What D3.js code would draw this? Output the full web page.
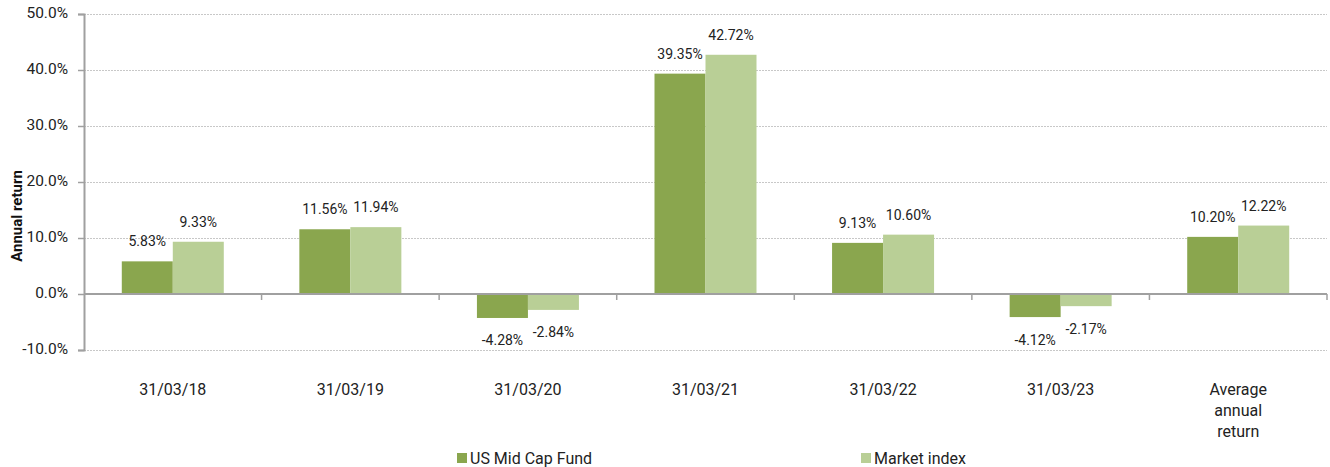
<!DOCTYPE html>
<html><head><meta charset="utf-8">
<script src="https://cdn.jsdelivr.net/npm/d3@7"></script>
<style>body{margin:0;background:#fff;font-family:Roboto,"Noto Sans",sans-serif;}</style>
</head><body><svg id="c" width="1330" height="467"></svg>
<script>
const categories = ["31/03/18","31/03/19","31/03/20","31/03/21","31/03/22","31/03/23","Average annual return"];
const categoryLines = [["31/03/18"],["31/03/19"],["31/03/20"],["31/03/21"],["31/03/22"],["31/03/23"],["Average","annual","return"]];
const fundValues = [5.83, 11.56, -4.28, 39.35, 9.13, -4.12, 10.20];
const indexValues = [9.33, 11.94, -2.84, 42.72, 10.60, -2.17, 12.22];
const seriesNames = ["US Mid Cap Fund","Market index"];
const yTicks = [-10, 0, 10, 20, 30, 40, 50];
const colors = ["#8aa64e","#b9cf96"];

(function(){
const svg = d3.select("#c");
const mLeft = 84, mRight = 1327, mTop = 14, mBottom = 350;
const y = d3.scaleLinear().domain([-10, 50]).range([mBottom, mTop]);
const x0 = d3.scaleBand().domain(categories).range([mLeft, mRight]).paddingInner(0).paddingOuter(0);
const x1 = d3.scaleBand().domain(seriesNames).range([0, 102]);
const barOffset = (x0.bandwidth() - 102) / 2;

// grid
svg.append("g").selectAll("line").data(yTicks.filter(t => t !== 0)).join("line")
  .attr("x1", mLeft).attr("x2", mRight).attr("y1", d => y(d) + 0.5).attr("y2", d => y(d) + 0.5)
  .attr("stroke", "#c8c8c8").attr("stroke-width", 1).attr("stroke-dasharray", "2,1");

// y axis
const yAxis = d3.axisLeft(y).tickValues(yTicks).tickFormat(d => d.toFixed(1) + "%").tickSize(6).tickPadding(10);
const ya = svg.append("g").attr("transform", `translate(${mLeft},0)`).call(yAxis);
ya.select(".domain").attr("stroke", "#a0a0a0").attr("stroke-width", 2);
ya.selectAll(".tick line").attr("stroke", "#a0a0a0").attr("stroke-width", 1.5);
ya.selectAll("text").attr("font-family", "Roboto").attr("font-size", 15.5).attr("fill", "#222")
  .attr("dy", "0.2em");

// bars
const series = [fundValues, indexValues];
series.forEach((vals, si) => {
  svg.append("g").selectAll("rect").data(vals).join("rect")
    .attr("x", (d, i) => x0(categories[i]) + barOffset + x1(seriesNames[si]))
    .attr("width", x1.bandwidth())
    .attr("y", d => y(Math.max(0, d)))
    .attr("height", d => Math.abs(y(d) - y(0)))
    .attr("fill", colors[si]);
  svg.append("g").selectAll("text").data(vals).join("text")
    .attr("x", (d, i) => x0(categories[i]) + barOffset + x1(seriesNames[si]) + x1.bandwidth() / 2)
    .attr("y", d => d >= 0 ? y(d) - 15 : y(d) + 27.5)
    .attr("text-anchor", "middle")
    .attr("font-family", "Roboto").attr("font-size", 14).attr("fill", "#222")
    .text(d => d.toFixed(2) + "%");
});

// x axis at zero
const xa = svg.append("g").attr("transform", `translate(0,${y(0)})`);
xa.append("line").attr("x1", mLeft).attr("x2", mRight).attr("y1", 0).attr("y2", 0)
  .attr("stroke", "#a0a0a0").attr("stroke-width", 2);
const bounds = categories.map(c => x0(c)).slice(1).concat([mRight]);
xa.selectAll(".tk").data(bounds).join("line").attr("class", "tk")
  .attr("x1", d => d).attr("x2", d => d).attr("y1", 0).attr("y2", 6)
  .attr("stroke", "#a0a0a0").attr("stroke-width", 1.5);

// category labels
svg.append("g").selectAll("text").data(categories).join("text")
  .attr("x", d => x0(d) + x0.bandwidth() / 2)
  .attr("y", 395)
  .attr("text-anchor", "middle")
  .attr("font-family", "Roboto").attr("font-size", 16).attr("fill", "#222")
  .each(function(d, i) {
    d3.select(this).selectAll("tspan").data(categoryLines[i]).join("tspan")
      .attr("x", x0(d) + x0.bandwidth() / 2)
      .attr("dy", (t, j) => j === 0 ? 0 : 21)
      .text(t => t);
  });

// y title
svg.append("text").attr("transform", "translate(22,216) rotate(-90)")
  .attr("text-anchor", "middle").attr("font-family", "Roboto").attr("font-weight", "bold")
  .attr("font-size", 15).attr("fill", "#111").text("Annual return");

// legend
const legendX = [457, 861];
const lg = svg.append("g").selectAll("g").data(seriesNames).join("g")
  .attr("transform", (d, i) => `translate(${legendX[i]},453)`);
lg.append("rect").attr("width", 10).attr("height", 10).attr("fill", (d, i) => colors[i]);
lg.append("text").attr("x", 13).attr("y", 11).attr("font-family", "Roboto").attr("font-size", 16)
  .attr("fill", "#222").text(d => d);
})();
</script></body></html>
